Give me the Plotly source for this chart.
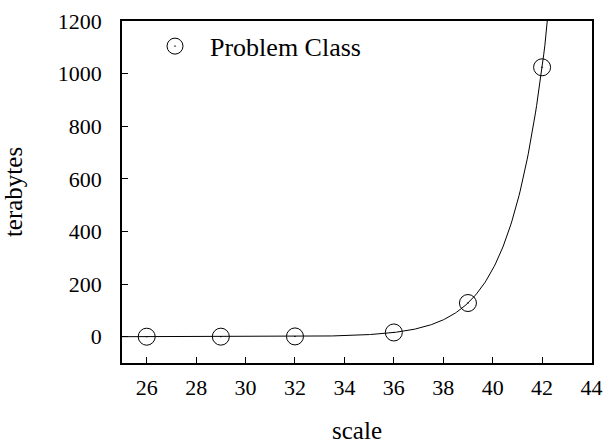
import numpy as np
import plotly.graph_objects as go

scale = [26, 29, 32, 36, 39, 42]
terabytes = [0.0156, 0.125, 1, 16, 128, 1024]
x_ticks = [26, 28, 30, 32, 34, 36, 38, 40, 42, 44]
y_ticks = [0, 200, 400, 600, 800, 1000, 1200]

# exponential fit of the data (log-linear least squares)
b, a = np.polyfit(scale, np.log(terabytes), 1)
xf = np.linspace(25, 44.02, 400)
yf = np.exp(a + b * xf)

FONT = "Liberation Serif"

fig = go.Figure()
fig.add_trace(go.Scatter(x=xf, y=yf, mode="lines", line=dict(color="black", width=1),
                         showlegend=False, hoverinfo="skip"))
fig.add_trace(go.Scatter(x=scale, y=terabytes, mode="markers", name="Problem Class",
                         marker=dict(symbol="circle-open-dot", size=17, color="black",
                                     line=dict(width=1, color="black"))))

fig.update_layout(
    width=605, height=444,
    margin=dict(l=122, r=13, t=21, b=81, autoexpand=False),
    plot_bgcolor="white", paper_bgcolor="white",
    font=dict(family=FONT, size=22, color="black"),
    legend=dict(x=0.0383, y=0.995, xanchor="left", yanchor="top", bgcolor="rgba(0,0,0,0)",
                font=dict(size=26), itemwidth=60),
    xaxis=dict(range=[25, 44.02], tickvals=x_ticks, ticks="inside", ticklen=6, tickcolor="black",
               showline=True, linecolor="black", linewidth=1.5, mirror=True, showgrid=False,
               zeroline=False, automargin=False, ticklabelstandoff=4, ticklabeloverflow="allow",
               title=dict(text="scale", standoff=56, font=dict(size=25))),
    yaxis=dict(range=[-100, 1200], tickvals=y_ticks, ticks="inside", ticklen=6, tickcolor="black",
               showline=True, linecolor="black", linewidth=1.5, mirror=True, showgrid=False,
               zeroline=False, automargin=False, ticklabelstandoff=14,
               title=dict(text="terabytes", standoff=32, font=dict(size=25))),
)
fig.write_html("out.html", config={"displayModeBar": False},
               post_script="document.body.style.margin='0';document.body.style.overflow='hidden';")
